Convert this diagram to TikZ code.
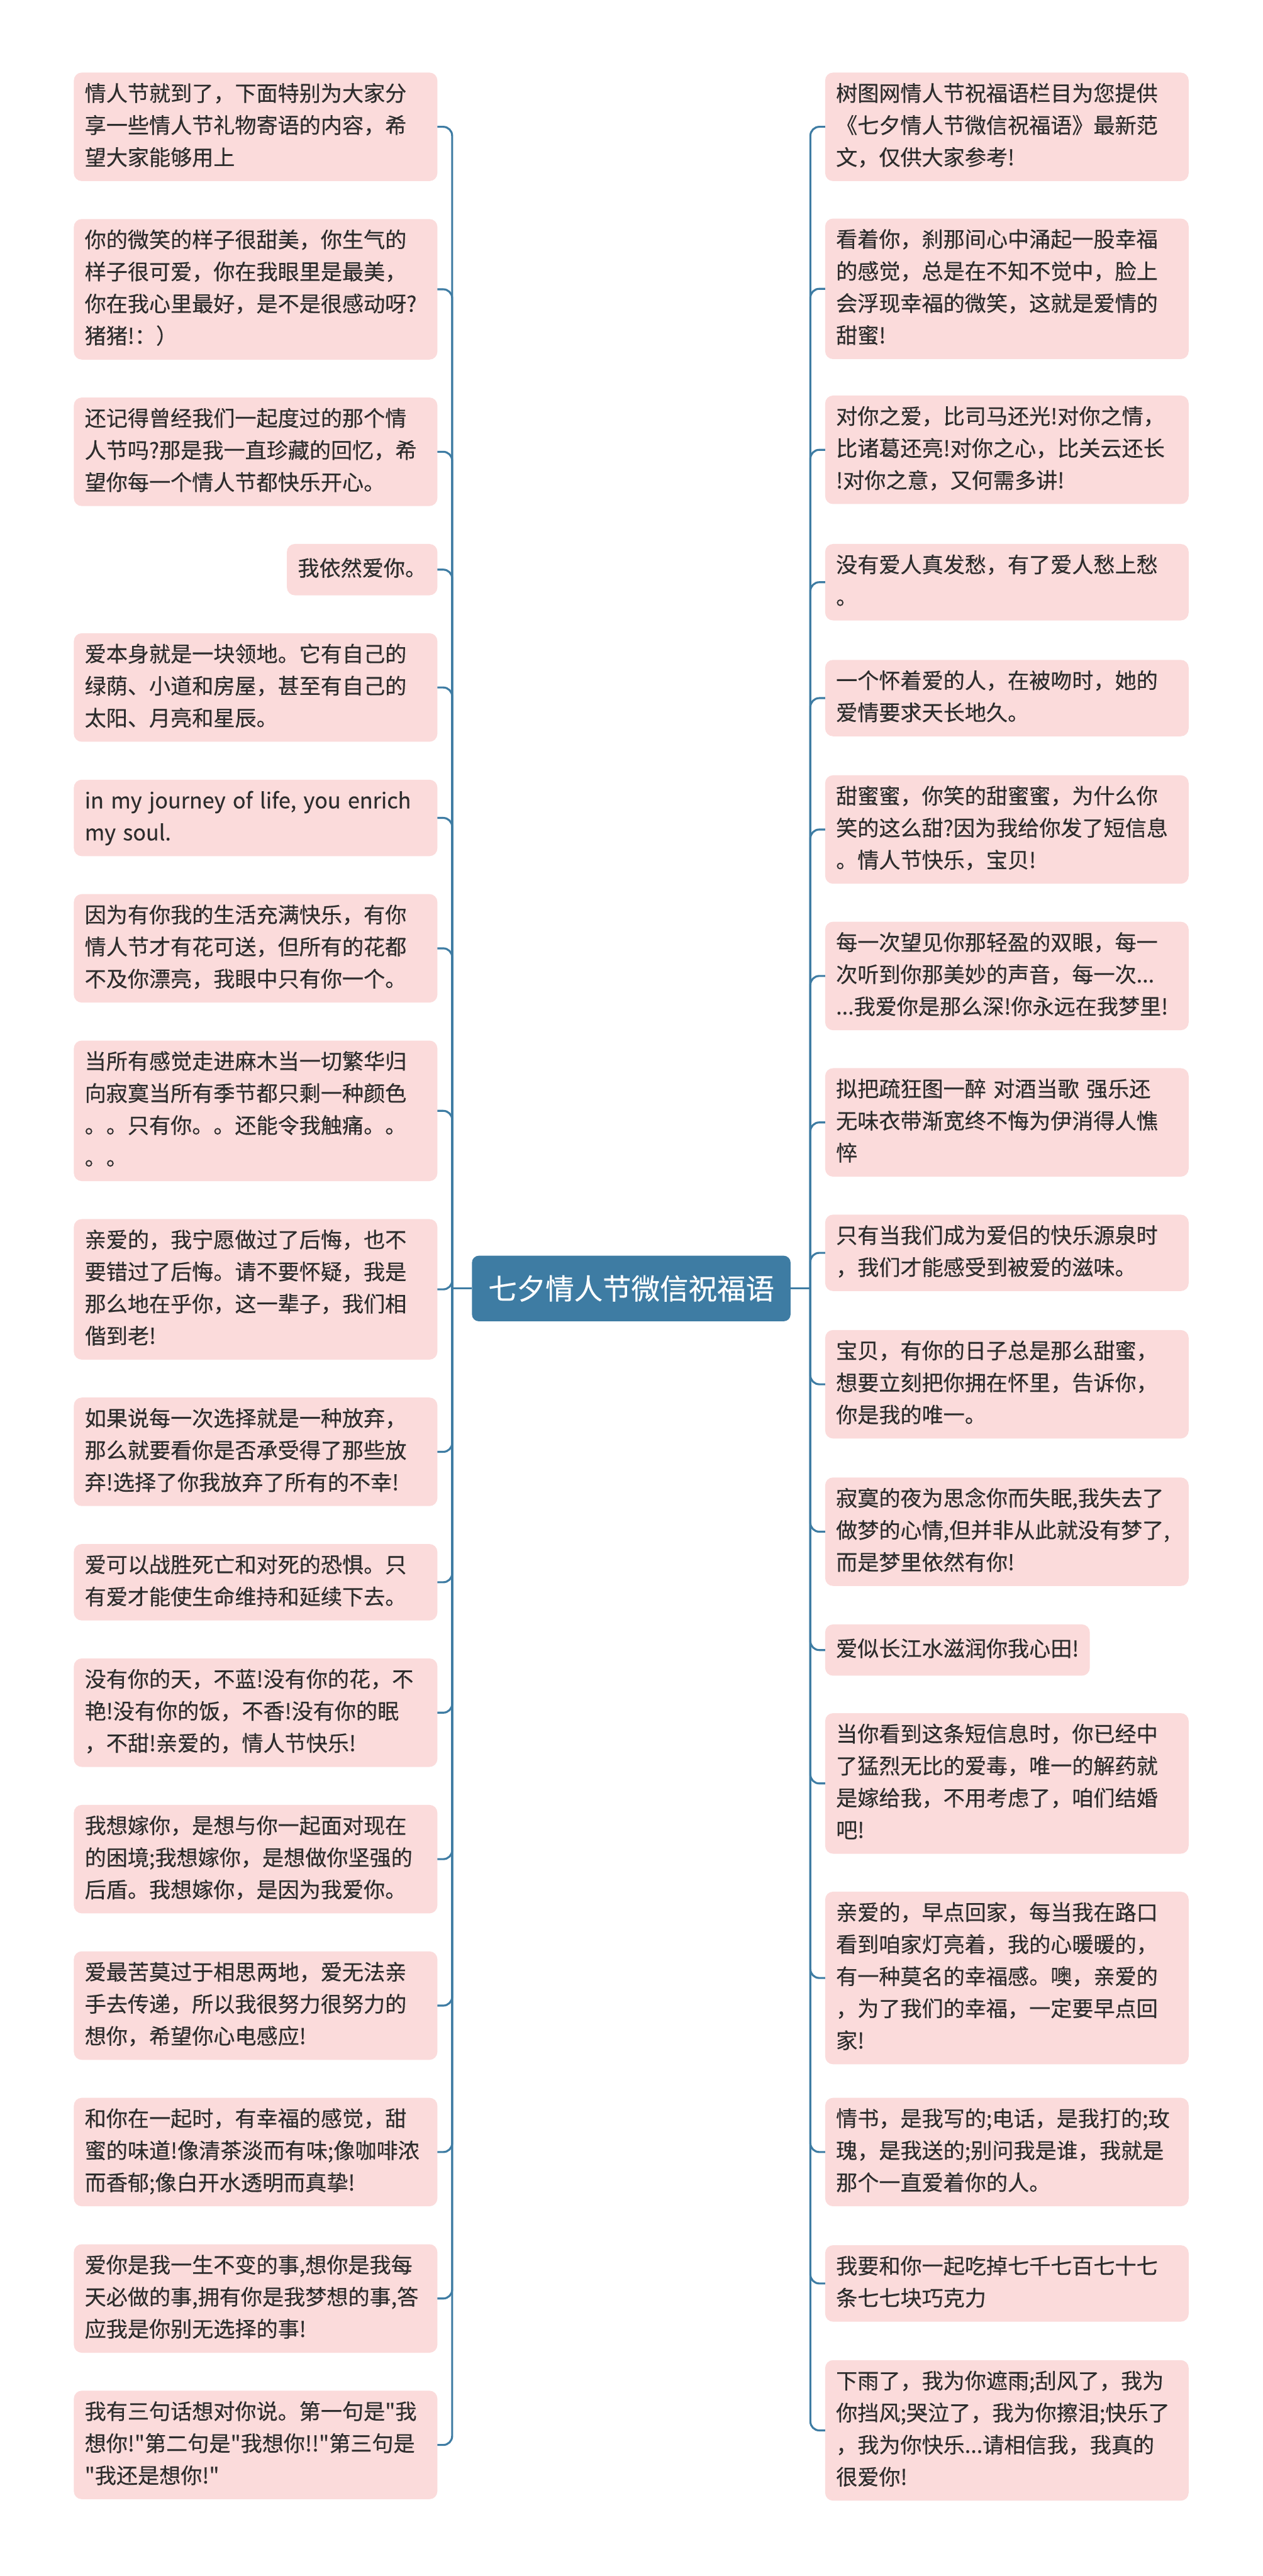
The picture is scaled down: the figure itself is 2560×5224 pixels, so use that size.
\documentclass[tikz,border=0pt]{standalone}
\usepackage{fontspec}
\newfontfamily\cjk[FakeBold=0.35]{Noto Sans CJK SC}
\definecolor{pinkbox}{RGB}{251,219,219}
\definecolor{bluec}{RGB}{62,124,163}
\definecolor{txt}{RGB}{45,45,45}
\tikzset{
  leafbase/.style={fill=pinkbox, rounded corners=16pt, text=txt,
    font=\cjk\fontsize{43.5}{65}\selectfont, align=left,
    inner xsep=22pt, inner ysep=12.5pt, minimum height=104pt,
    execute at begin node=\strut, execute at end node=\strut},
  leaf/.style={leafbase, text width=693pt},
  lnode/.style={anchor=north east},
  rnode/.style={anchor=north west},
  root/.style={fill=bluec, rounded corners=14pt, text=white,
    font=\cjk\fontsize{58}{70}\selectfont, inner xsep=33pt,
    minimum height=133pt},
  conn/.style={draw=bluec, line width=4pt, rounded corners=18pt}
}
\begin{document}
\begin{tikzpicture}[x=1pt,y=-1pt]
\useasboundingbox[fill=white] (0,0) rectangle (2560,5224);

\node[root] (c) at (1280,2613) {七夕情人节微信祝福语};

% left column
\node[leaf,lnode] (L1) at (887,147) {情人节就到了，下面特别为大家分\\享一些情人节礼物寄语的内容，希\\望大家能够用上};
\node[leaf,lnode] (L2) at (887,444) {你的微笑的样子很甜美，你生气的\\样子很可爱，你在我眼里是最美，\\你在我心里最好，是不是很感动呀?\\猪猪!：）};
\node[leaf,lnode] (L3) at (887,806) {还记得曾经我们一起度过的那个情\\人节吗?那是我一直珍藏的回忆，希\\望你每一个情人节都快乐开心。};
\node[leafbase,lnode] (L4) at (887,1103) {我依然爱你。};
\node[leaf,lnode] (L5) at (887,1284) {爱本身就是一块领地。它有自己的\\绿荫、小道和房屋，甚至有自己的\\太阳、月亮和星辰。};
\node[leaf,lnode] (L6) at (887,1581) {\mbox{in my journey of life, you enrich}\\my soul.};
\node[leaf,lnode] (L7) at (887,1813) {因为有你我的生活充满快乐，有你\\情人节才有花可送，但所有的花都\\不及你漂亮，我眼中只有你一个。};
\node[leaf,lnode] (L8) at (887,2110) {当所有感觉走进麻木当一切繁华归\\向寂寞当所有季节都只剩一种颜色\\。。只有你。。还能令我触痛。。\\。。};
\node[leaf,lnode] (L9) at (887,2472) {亲爱的，我宁愿做过了后悔，也不\\要错过了后悔。请不要怀疑，我是\\那么地在乎你，这一辈子，我们相\\偕到老!};
\node[leaf,lnode] (L10) at (887,2834) {如果说每一次选择就是一种放弃，\\那么就要看你是否承受得了那些放\\弃!选择了你我放弃了所有的不幸!};
\node[leaf,lnode] (L11) at (887,3131) {爱可以战胜死亡和对死的恐惧。只\\有爱才能使生命维持和延续下去。};
\node[leaf,lnode] (L12) at (887,3363) {没有你的天，不蓝!没有你的花，不\\艳!没有你的饭，不香!没有你的眠\\，不甜!亲爱的，情人节快乐!};
\node[leaf,lnode] (L13) at (887,3660) {我想嫁你，是想与你一起面对现在\\的困境;我想嫁你，是想做你坚强的\\后盾。我想嫁你，是因为我爱你。};
\node[leaf,lnode] (L14) at (887,3957) {爱最苦莫过于相思两地，爱无法亲\\手去传递，所以我很努力很努力的\\想你，希望你心电感应!};
\node[leaf,lnode] (L15) at (887,4254) {和你在一起时，有幸福的感觉，甜\\蜜的味道!像清茶淡而有味;像咖啡浓\\而香郁;像白开水透明而真挚!};
\node[leaf,lnode] (L16) at (887,4551) {爱你是我一生不变的事,想你是我每\\天必做的事,拥有你是我梦想的事,答\\应我是你别无选择的事!};
\node[leaf,lnode] (L17) at (887,4848) {我有三句话想对你说。第一句是"我\\想你!"第二句是"我想你!!"第三句是\\"我还是想你!"};

% right column
\node[leaf,rnode] (R1) at (1673,147) {树图网情人节祝福语栏目为您提供\\《七夕情人节微信祝福语》最新范\\文，仅供大家参考!};
\node[leaf,rnode] (R2) at (1673,443) {看着你，刹那间心中涌起一股幸福\\的感觉，总是在不知不觉中，脸上\\会浮现幸福的微笑，这就是爱情的\\甜蜜!};
\node[leaf,rnode] (R3) at (1673,802) {对你之爱，比司马还光!对你之情，\\比诸葛还亮!对你之心，比关云还长\\!对你之意，又何需多讲!};
\node[leaf,rnode] (R4) at (1673,1103) {没有爱人真发愁，有了爱人愁上愁\\。};
\node[leaf,rnode] (R5) at (1673,1338) {一个怀着爱的人，在被吻时，她的\\爱情要求天长地久。};
\node[leaf,rnode] (R6) at (1673,1572) {甜蜜蜜，你笑的甜蜜蜜，为什么你\\笑的这么甜?因为我给你发了短信息\\。情人节快乐，宝贝!};
\node[leaf,rnode] (R7) at (1673,1869) {每一次望见你那轻盈的双眼，每一\\次听到你那美妙的声音，每一次...\\...我爱你是那么深!你永远在我梦里!};
\node[leaf,rnode] (R8) at (1673,2166) {拟把疏狂图一醉 对酒当歌 强乐还\\无味衣带渐宽终不悔为伊消得人憔\\悴};
\node[leaf,rnode] (R9) at (1673,2463) {只有当我们成为爱侣的快乐源泉时\\，我们才能感受到被爱的滋味。};
\node[leaf,rnode] (R10) at (1673,2697) {宝贝，有你的日子总是那么甜蜜，\\想要立刻把你拥在怀里，告诉你，\\你是我的唯一。};
\node[leaf,rnode] (R11) at (1673,2996) {寂寞的夜为思念你而失眠,我失去了\\做梦的心情,但并非从此就没有梦了,\\而是梦里依然有你!};
\node[leafbase,rnode] (R12) at (1673,3294) {爱似长江水滋润你我心田!};
\node[leaf,rnode] (R13) at (1673,3474) {当你看到这条短信息时，你已经中\\了猛烈无比的爱毒，唯一的解药就\\是嫁给我，不用考虑了，咱们结婚\\吧!};
\node[leaf,rnode] (R14) at (1673,3836) {亲爱的，早点回家，每当我在路口\\看到咱家灯亮着，我的心暖暖的，\\有一种莫名的幸福感。噢，亲爱的\\，为了我们的幸福，一定要早点回\\家!};
\node[leaf,rnode] (R15) at (1673,4254) {情书，是我写的;电话，是我打的;玫\\瑰，是我送的;别问我是谁，我就是\\那个一直爱着你的人。};
\node[leaf,rnode] (R16) at (1673,4553) {我要和你一起吃掉七千七百七十七\\条七七块巧克力};
\node[leaf,rnode] (R17) at (1673,4786) {下雨了，我为你遮雨;刮风了，我为\\你挡风;哭泣了，我为你擦泪;快乐了\\，我为你快乐...请相信我，我真的\\很爱你!};

% connectors
\coordinate (lj) at ([xshift=-40pt]c.west);
\coordinate (rj) at ([xshift=40pt]c.east);
\draw[conn] (c.west) -- (lj);
\draw[conn] (c.east) -- (rj);
\foreach \n in {1,...,17} {
  \draw[conn] (lj) |- (L\n.east);
  \draw[conn] (rj) |- (R\n.west);
}
\end{tikzpicture}
\end{document}
